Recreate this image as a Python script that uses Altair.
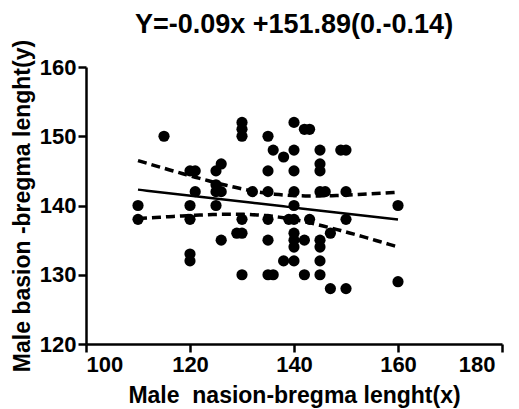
import altair as alt
import numpy as np
import pandas as pd

x_vals = [110,110,115,120,121,120,121,120,120,120,125,126,125,125,126,125,126,
          130,130,130,130,129,130,130,132,135,136,138,135,135,135,135,135,136,
          138,139,140,142,143,140,145,149,150,140,145,145,140,145,146,150,140,
          160,140,143,150,147,140,140,140,142,145,145,140,145,142,145,147,150,160]
y_vals = [140,138,150,145,145,140,142,138,133,132,145,146,143,142,142,140,135,
          152,151,150,138,136,136,130,142,150,148,147,145,142,138,135,130,130,
          132,138,152,151,151,148,148,148,148,145,146,145,142,142,142,142,140,
          140,138,138,138,136,136,135,134,135,135,134,132,132,130,130,128,128,129]

title_text = "Y=-0.09x +151.89(0.-0.14)"
x_title = "Male\u00a0 nasion-bregma lenght(x)"
y_title = "Male basion -bregma lenght(y)"

df = pd.DataFrame({"x": x_vals, "y": y_vals})

# least squares fit and 95% confidence band computed from the data
xa = np.array(x_vals, float); ya = np.array(y_vals, float)
n = len(xa)
b, a = np.polyfit(xa, ya, 1)
res = ya - (a + b * xa)
s = np.sqrt((res ** 2).sum() / (n - 2))
sxx = ((xa - xa.mean()) ** 2).sum()
t = 1.996
gx = np.linspace(xa.min(), xa.max(), 60)
fit = a + b * gx
se = s * np.sqrt(1.0 / n + (gx - xa.mean()) ** 2 / sxx)
band = pd.DataFrame({"x": np.concatenate([gx, gx]),
                     "y": np.concatenate([fit + t * se, fit - t * se]),
                     "side": ["upper"] * len(gx) + ["lower"] * len(gx)})
fitdf = pd.DataFrame({"x": gx, "y": fit})

FONT = "Liberation Sans Narrow, Liberation Sans, Arial"

xs = alt.X("x:Q", scale=alt.Scale(domain=[100, 180], nice=False, zero=False),
           axis=alt.Axis(values=[100, 120, 140, 160, 180], title=x_title,
                         labelOffset=alt.expr("datum.value == 180 ? -7 : 0")))
ys = alt.Y("y:Q", scale=alt.Scale(domain=[120, 160], nice=False, zero=False),
           axis=alt.Axis(values=[120, 130, 140, 150, 160], title=y_title))

pts = alt.Chart(df).mark_circle(size=125, color="black", opacity=1).encode(x=xs, y=ys)
line = alt.Chart(fitdf).mark_line(color="black", strokeWidth=2.5).encode(x=xs, y=ys)
bands = alt.Chart(band).mark_line(color="black", strokeWidth=3.5, strokeDash=[9, 5]).encode(
    x=xs, y=ys, detail="side:N")

chart = (pts + bands + line).properties(
    width=416, height=277,
    title=alt.Title(title_text, fontSize=27, font=FONT, fontWeight="bold", anchor="middle", offset=0),
    autosize=alt.AutoSizeParams(type="none"),
    padding={"left": 78, "top": 59, "right": 9, "bottom": 65},
).configure_view(stroke=None).configure_axis(
    grid=False, domainColor="black", domainWidth=2.5, tickColor="black", tickWidth=2.5,
    tickSize=8, labelFont=FONT, labelFontSize=22, labelFontWeight="bold", labelColor="black",
    titleFont=FONT, titleFontSize=23, titleFontWeight="bold", titleColor="black",
    labelPadding=2,
).configure_axisX(titlePadding=9).configure_axisY(titlePadding=5)

chart.save("out.html", embed_options={"renderer": "svg", "actions": False})
